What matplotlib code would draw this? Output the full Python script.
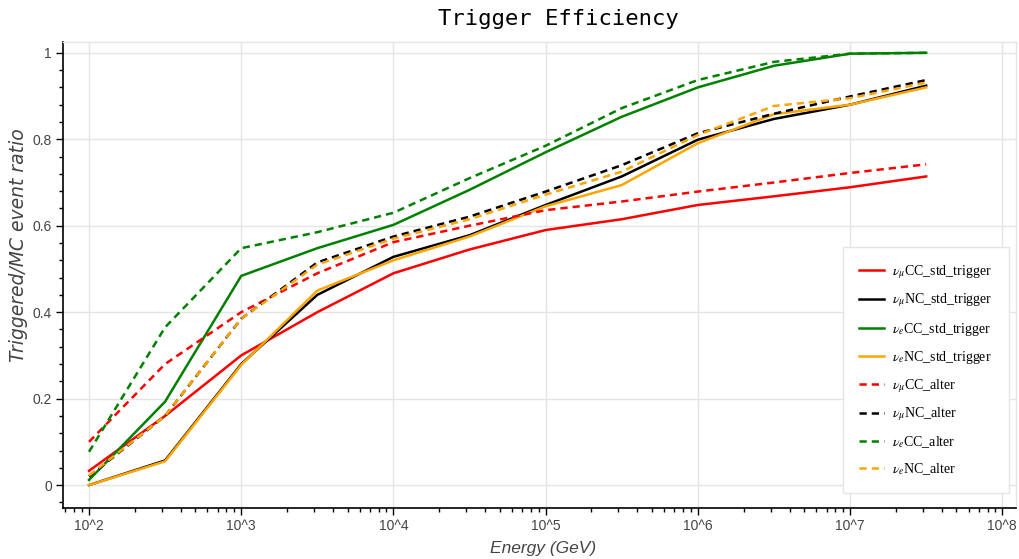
import numpy as np
import matplotlib
matplotlib.use("Agg")
import matplotlib.pyplot as plt
from matplotlib.ticker import LogLocator, FixedLocator, MultipleLocator, NullFormatter

# energies (GeV), half-decade steps
energy = [1e2, 3.16e2, 1e3, 3.16e3, 1e4, 3.16e4, 1e5, 3.16e5, 1e6, 3.16e6, 1e7, 3.16e7]

numu_cc_std = [0.033, 0.16, 0.30, 0.40, 0.49, 0.545, 0.59, 0.615, 0.648, 0.668, 0.689, 0.714]
numu_nc_std = [0.0, 0.057, 0.28, 0.44, 0.528, 0.578, 0.648, 0.714, 0.799, 0.847, 0.88, 0.924]
nue_cc_std = [0.012, 0.193, 0.484, 0.548, 0.602, 0.683, 0.77, 0.852, 0.92, 0.97, 0.998, 1.0]
nue_nc_std = [0.0, 0.055, 0.278, 0.45, 0.52, 0.575, 0.645, 0.694, 0.791, 0.858, 0.88, 0.92]
numu_cc_alt = [0.10, 0.28, 0.40, 0.49, 0.562, 0.60, 0.636, 0.656, 0.679, 0.70, 0.722, 0.742]
numu_nc_alt = [0.02, 0.16, 0.385, 0.515, 0.575, 0.621, 0.679, 0.74, 0.814, 0.859, 0.899, 0.937]
nue_cc_alt = [0.077, 0.365, 0.548, 0.585, 0.63, 0.71, 0.785, 0.872, 0.937, 0.979, 0.998, 1.0]
nue_nc_alt = [0.022, 0.16, 0.385, 0.51, 0.57, 0.615, 0.672, 0.725, 0.81, 0.877, 0.895, 0.931]

x_ticks = [1e2, 1e3, 1e4, 1e5, 1e6, 1e7, 1e8]
x_ticklabels = ["10^2", "10^3", "10^4", "10^5", "10^6", "10^7", "10^8"]
y_ticks = [0, 0.2, 0.4, 0.6, 0.8, 1]
y_ticklabels = ["0", "0.2", "0.4", "0.6", "0.8", "1"]

plt.rcParams["mathtext.fontset"] = "stix"

fig = plt.figure(figsize=(10.19, 5.59), dpi=100)
ax = fig.add_axes([63 / 1019, 1 - 508 / 559, (1016 - 63) / 1019, (508 - 42) / 559])

lw = 1.8
dash = (2.9, 2.0)
series = [
    (numu_cc_std, "red", "-", r"$\nu_\mu$CC_std_trigger"),
    (numu_nc_std, "black", "-", r"$\nu_\mu$NC_std_trigger"),
    (nue_cc_std, "green", "-", r"$\nu_e$CC_std_trigger"),
    (nue_nc_std, "orange", "-", r"$\nu_e$NC_std_trigger"),
    (numu_cc_alt, "red", "--", r"$\nu_\mu$CC_alter"),
    (numu_nc_alt, "black", "--", r"$\nu_\mu$NC_alter"),
    (nue_cc_alt, "green", "--", r"$\nu_e$CC_alter"),
    (nue_nc_alt, "orange", "--", r"$\nu_e$NC_alter"),
]
for vals, color, ls, label in series:
    line, = ax.plot(energy, vals, color=color, lw=lw, label=label)
    if ls == "--":
        line.set_dashes(dash)

ax.set_xscale("log")
ax.set_xlim(10 ** 1.829, 10 ** 8.09)
ax.set_ylim(-0.053, 1.025)

ax.xaxis.set_major_locator(FixedLocator(x_ticks))
ax.set_xticklabels(x_ticklabels)
ax.xaxis.set_minor_locator(LogLocator(base=10, subs=np.arange(2, 10)))
ax.xaxis.set_minor_formatter(NullFormatter())
ax.set_yticks(y_ticks)
ax.set_yticklabels(y_ticklabels)
ax.yaxis.set_minor_locator(MultipleLocator(0.04))

ax.grid(True, which="major", color="#e5e5e5", lw=1)
ax.set_axisbelow(True)

for side in ["top", "right"]:
    ax.spines[side].set_color("#e5e5e5")
    ax.spines[side].set_linewidth(1)
for side in ["left", "bottom"]:
    ax.spines[side].set_color("black")
    ax.spines[side].set_linewidth(1.2)

ax.tick_params(which="major", direction="out", length=5, width=1, color="black",
               labelsize=10, labelcolor="#444444", pad=3)
ax.tick_params(which="minor", direction="out", length=3, width=1, color="black")
for lab in ax.get_xticklabels() + ax.get_yticklabels():
    lab.set_fontfamily("Liberation Sans")

ax.set_xlabel("Energy (GeV)", fontsize=12.5, style="italic", color="#444444",
              family="Liberation Sans", va="center")
ax.xaxis.set_label_coords((543 - 63) / 953, -(549 - 508) / 466)
ax.set_ylabel("Triggered/MC event ratio", fontsize=13.5, style="italic", color="#444444",
              family="DejaVu Sans", va="center")
ax.yaxis.set_label_coords(-(63 - 19) / 953, (508 - 245) / 466)
ax.set_title("Trigger Efficiency", fontsize=16, family="DejaVu Sans Mono",
             x=(558 - 63) / 953, y=1.0, pad=12)

leg = fig.legend(loc="upper left", bbox_to_anchor=(843 / 1019, 1 - 247 / 559),
                 prop={"family": "Liberation Serif", "size": 10},
                 frameon=True, fancybox=False, framealpha=1, edgecolor="#e5e5e5",
                 handlelength=1.8, handletextpad=0.6, labelspacing=0.8,
                 borderpad=1.15, borderaxespad=0)
leg.get_frame().set_linewidth(1)

fig.savefig("out.png", dpi=100)
